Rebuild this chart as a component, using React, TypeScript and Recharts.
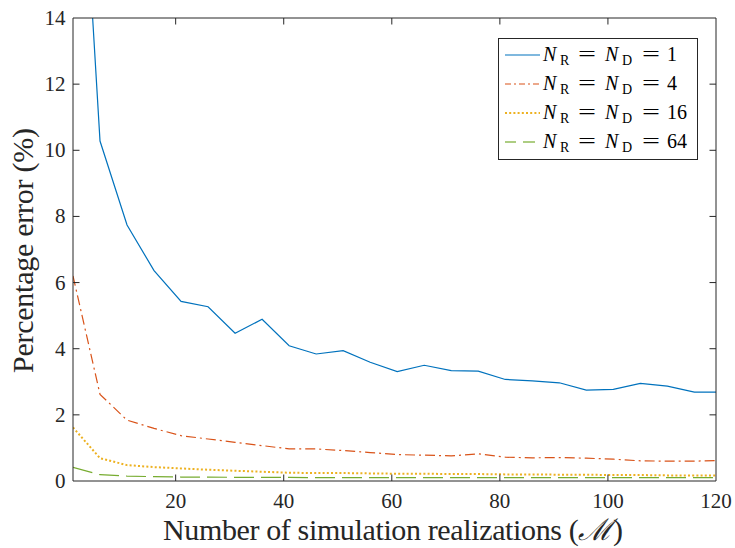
import React from "react";
import { LineChart, Line, XAxis, YAxis } from "recharts";

const xValues = [1, 6, 11, 16, 21, 26, 31, 36, 41, 46, 51, 56, 61, 66, 71, 76, 81, 86, 91, 96, 101, 106, 111, 116, 120];
const seriesN1 = [23.9, 10.28, 7.74, 6.36, 5.43, 5.27, 4.47, 4.89, 4.09, 3.84, 3.94, 3.59, 3.31, 3.5, 3.34, 3.32, 3.07, 3.03, 2.97, 2.75, 2.77, 2.95, 2.87, 2.69, 2.69];
const seriesN4 = [6.2, 2.62, 1.84, 1.59, 1.37, 1.27, 1.17, 1.07, 0.97, 0.97, 0.92, 0.86, 0.8, 0.78, 0.76, 0.82, 0.72, 0.7, 0.71, 0.69, 0.66, 0.61, 0.6, 0.6, 0.62];
const seriesN16 = [1.62, 0.69, 0.48, 0.42, 0.38, 0.34, 0.31, 0.28, 0.25, 0.24, 0.24, 0.23, 0.22, 0.22, 0.21, 0.21, 0.2, 0.2, 0.19, 0.19, 0.18, 0.18, 0.17, 0.17, 0.17];
const seriesN64 = [0.41, 0.19, 0.15, 0.13, 0.12, 0.12, 0.11, 0.11, 0.11, 0.1, 0.1, 0.1, 0.1, 0.1, 0.1, 0.1, 0.1, 0.1, 0.1, 0.1, 0.1, 0.1, 0.1, 0.1, 0.1];

const xTicks = [20, 40, 60, 80, 100, 120];
const yTicks = [0, 2, 4, 6, 8, 10, 12, 14];
const legendValues = ["1", "4", "16", "64"];

const FONT = "'Liberation Serif', 'Times New Roman', Times, 'DejaVu Serif', serif";
const AX = "#262626";
const TL = 6.5;

const series = [
  { key: "n1", values: seriesN1, color: "#0072BD", dash: undefined as string | undefined, width: 1.2 },
  { key: "n4", values: seriesN4, color: "#D95319", dash: "10 4 2 4", width: 1.2 },
  { key: "n16", values: seriesN16, color: "#EDB120", dash: "2 2.2", width: 2 },
  { key: "n64", values: seriesN64, color: "#77AC30", dash: "20 7", width: 1.2 },
];

const data = xValues.map((x, i) => {
  const row: Record<string, number> = { x };
  series.forEach((s) => {
    row[s.key] = s.values[i];
  });
  return row;
});

const BottomTick = (props: any) => {
  const { x, y, payload } = props;
  return (
    <g>
      {payload.value !== 120 && <line x1={x} x2={x} y1={y} y2={y - TL} stroke={AX} strokeWidth={1} />}
      <text x={x} y={y + 27} textAnchor="middle" style={{ fontFamily: FONT }} fontSize={21} fill={AX}>
        {payload.value}
      </text>
    </g>
  );
};

const TopTick = (props: any) => {
  const { x, y, payload } = props;
  if (payload.value === 120) return <g />;
  return <line x1={x} x2={x} y1={y} y2={y + TL} stroke={AX} strokeWidth={1} />;
};

const LeftTick = (props: any) => {
  const { x, y, payload } = props;
  return (
    <g>
      {payload.value !== 0 && payload.value !== 14 && (
        <line x1={x} x2={x + TL} y1={y} y2={y} stroke={AX} strokeWidth={1} />
      )}
      <text x={x - 7.5} y={y + 7} textAnchor="end" style={{ fontFamily: FONT }} fontSize={21} fill={AX}>
        {payload.value}
      </text>
    </g>
  );
};

const RightTick = (props: any) => {
  const { x, y, payload } = props;
  if (payload.value === 0 || payload.value === 14) return <g />;
  return <line x1={x} x2={x - TL} y1={y} y2={y} stroke={AX} strokeWidth={1} />;
};

const LegendSample = ({ s, y }: { s: (typeof series)[number]; y: number }) => {
  if (s.key === "n64") {
    return (
      <g>
        <line x1={505} x2={516} y1={y} y2={y} stroke={s.color} strokeWidth={s.width} />
        <line x1={523} x2={535} y1={y} y2={y} stroke={s.color} strokeWidth={s.width} />
      </g>
    );
  }
  if (s.key === "n4") {
    return <line x1={505} x2={540} y1={y} y2={y} stroke={s.color} strokeWidth={s.width} strokeDasharray="6 3 2 3" />;
  }
  return <line x1={505} x2={540} y1={y} y2={y} stroke={s.color} strokeWidth={s.width} strokeDasharray={s.dash} />;
};

const Legend = () => (
  <svg width={735} height={548} style={{ position: "absolute", left: 0, top: 0, pointerEvents: "none", fontFamily: FONT }}>
    <rect x={498.5} y={38.5} width={199} height={121} fill="#fff" stroke={AX} strokeWidth={1} />
    {series.map((s, i) => {
      const ly = 55 + i * 29;
      const base = ly + 5.5;
      return (
        <g key={s.key} fill="#000">
          <LegendSample s={s} y={ly} />
          <text x={543} y={base} fontSize={20} fontStyle="italic">N</text>
          <text x={560} y={base + 4} fontSize={14}>R</text>
          <text x={578} y={base} fontSize={20} textLength={18} lengthAdjust="spacingAndGlyphs">=</text>
          <text x={605} y={base} fontSize={20} fontStyle="italic">N</text>
          <text x={622} y={base + 4} fontSize={14}>D</text>
          <text x={642} y={base} fontSize={20} textLength={18} lengthAdjust="spacingAndGlyphs">=</text>
          <text x={667} y={base} fontSize={20}>{legendValues[i]}</text>
        </g>
      );
    })}
  </svg>
);

export default function App() {
  return (
    <div style={{ position: "absolute", left: 0, top: 0, width: 735, height: 548, background: "#fff", fontFamily: FONT }}>
      <LineChart width={735} height={548} data={data} margin={{ top: 17, right: 18, bottom: 0, left: 0 }}>
        <XAxis
          dataKey="x"
          type="number"
          domain={[1, 120]}
          ticks={xTicks}
          allowDataOverflow
          height={67}
          tickSize={0}
          tickMargin={0}
          tick={<BottomTick />}
          axisLine={{ stroke: AX, strokeWidth: 1 }}
          tickLine={false}
          interval={0}
        />
        <XAxis
          xAxisId="top"
          orientation="top"
          dataKey="x"
          type="number"
          domain={[1, 120]}
          ticks={xTicks}
          allowDataOverflow
          height={1}
          tickSize={0}
          tickMargin={0}
          tick={<TopTick />}
          axisLine={{ stroke: AX, strokeWidth: 1 }}
          tickLine={false}
          interval={0}
        />
        <YAxis
          type="number"
          domain={[0, 14]}
          ticks={yTicks}
          allowDataOverflow
          width={73}
          tickSize={0}
          tickMargin={0}
          tick={<LeftTick />}
          axisLine={{ stroke: AX, strokeWidth: 1 }}
          tickLine={false}
          interval={0}
        />
        <YAxis
          yAxisId="right"
          orientation="right"
          type="number"
          domain={[0, 14]}
          ticks={yTicks}
          allowDataOverflow
          width={1}
          tickSize={0}
          tickMargin={0}
          tick={<RightTick />}
          axisLine={{ stroke: AX, strokeWidth: 1 }}
          tickLine={false}
          interval={0}
        />
        {series.map((s) => (
          <Line
            key={s.key}
            dataKey={s.key}
            type="linear"
            stroke={s.color}
            strokeWidth={s.width}
            strokeDasharray={s.dash}
            dot={false}
            activeDot={false}
            isAnimationActive={false}
          />
        ))}
        <Line
          xAxisId="top"
          yAxisId="right"
          dataKey="n64"
          type="linear"
          stroke="none"
          strokeOpacity={0}
          dot={false}
          activeDot={false}
          legendType="none"
          isAnimationActive={false}
        />
      </LineChart>
      <svg width={735} height={548} style={{ position: "absolute", left: 0, top: 0, pointerEvents: "none", fontFamily: FONT }}>
        <text
          x={33}
          y={250.5}
          transform="rotate(-90 33 250.5)"
          textAnchor="middle"
          fontSize={30}
          fill={AX}
          textLength={245}
        >
          Percentage error (%)
        </text>
        <text x={393} y={540} textAnchor="middle" fontSize={30} fill={AX} textLength={460}>
          Number of simulation realizations (
          <tspan fontStyle="italic">ℳ</tspan>)
        </text>
      </svg>
      <Legend />
    </div>
  );
}
